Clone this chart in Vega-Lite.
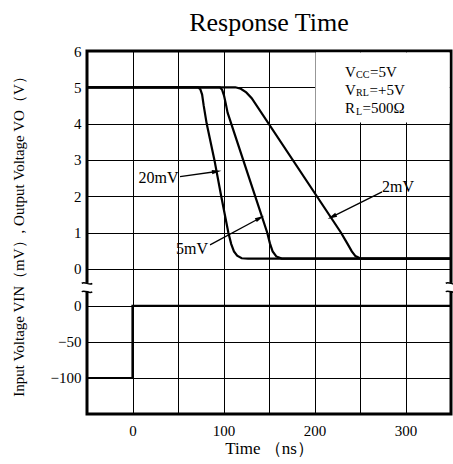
{
  "$schema": "https://vega.github.io/schema/vega-lite/v6.json",
  "width": 364,
  "height": 363,
  "autosize": {"type": "none"},
  "padding": {"left": 87, "top": 51, "right": 2, "bottom": 50},
  "title": {"text": "Response Time", "font": "Liberation Serif", "fontSize": 26, "fontWeight": "normal", "color": "black", "offset": 8},
  "config": {
    "view": {"stroke": "black", "strokeWidth": 3},
    "axis": {"labelFont": "Liberation Serif", "labelFontSize": 15, "labelColor": "black", "titleFont": "Liberation Serif", "titleColor": "black", "titleFontWeight": "normal", "gridColor": "black", "gridOpacity": 1, "gridWidth": 1, "ticks": false, "domain": false},
    "text": {"font": "Liberation Serif", "color": "black"}
  },
  "datasets": {
    "curves": [
      {"curve": "20mV", "t": -50, "v": 5}, {"curve": "20mV", "t": 72, "v": 5}, {"curve": "20mV", "t": 74.5, "v": 4.95}, {"curve": "20mV", "t": 76.5, "v": 4.8}, {"curve": "20mV", "t": 78.2, "v": 4.5}, {"curve": "20mV", "t": 81.5, "v": 4}, {"curve": "20mV", "t": 90, "v": 3}, {"curve": "20mV", "t": 97.5, "v": 2}, {"curve": "20mV", "t": 105.3, "v": 1}, {"curve": "20mV", "t": 108.5, "v": 0.68}, {"curve": "20mV", "t": 111.5, "v": 0.48}, {"curve": "20mV", "t": 115, "v": 0.36}, {"curve": "20mV", "t": 120, "v": 0.29}, {"curve": "20mV", "t": 127, "v": 0.28}, {"curve": "20mV", "t": 350, "v": 0.28},
      {"curve": "5mV", "t": -50, "v": 5}, {"curve": "5mV", "t": 96, "v": 5}, {"curve": "5mV", "t": 98.5, "v": 4.93}, {"curve": "5mV", "t": 100.5, "v": 4.78}, {"curve": "5mV", "t": 102.5, "v": 4.55}, {"curve": "5mV", "t": 104.5, "v": 4.3}, {"curve": "5mV", "t": 121.6, "v": 3}, {"curve": "5mV", "t": 134.8, "v": 2}, {"curve": "5mV", "t": 148, "v": 1}, {"curve": "5mV", "t": 151, "v": 0.7}, {"curve": "5mV", "t": 154, "v": 0.48}, {"curve": "5mV", "t": 158, "v": 0.34}, {"curve": "5mV", "t": 164, "v": 0.28}, {"curve": "5mV", "t": 350, "v": 0.28},
      {"curve": "2mV", "t": -50, "v": 5}, {"curve": "2mV", "t": 113, "v": 5}, {"curve": "2mV", "t": 119, "v": 4.96}, {"curve": "2mV", "t": 125, "v": 4.86}, {"curve": "2mV", "t": 131, "v": 4.7}, {"curve": "2mV", "t": 229, "v": 1}, {"curve": "2mV", "t": 236, "v": 0.7}, {"curve": "2mV", "t": 241, "v": 0.48}, {"curve": "2mV", "t": 245, "v": 0.35}, {"curve": "2mV", "t": 250, "v": 0.29}, {"curve": "2mV", "t": 256, "v": 0.28}, {"curve": "2mV", "t": 350, "v": 0.28}
    ],
    "input": [
      {"i": 0, "t": -50, "mv": -100}, {"i": 1, "t": 0, "mv": -100}, {"i": 2, "t": 0, "mv": 0}, {"i": 3, "t": 350, "mv": 0}
    ],
    "arrows": [
      {"label": "20mV", "lt": 28.6, "lv": 2.5, "t": 52.2, "v": 2.54, "t2": 92.5, "v2": 2.68},
      {"label": "5mV", "lt": 65.4, "lv": 0.55, "t": 85.2, "v": 0.66, "t2": 140.1, "v2": 1.4},
      {"label": "2mV", "lt": 291.8, "lv": 2.25, "t": 274.2, "v": 2.12, "t2": 219.2, "v2": 1.43}
    ],
    "boxtext": [
      {"role": "main", "s": "V", "t": 233.5, "v": 5.43}, {"role": "sub", "s": "CC", "t": 245.6, "v": 5.33}, {"role": "main", "s": "=5V", "t": 261, "v": 5.43},
      {"role": "main", "s": "V", "t": 233.5, "v": 4.93}, {"role": "sub", "s": "RL", "t": 245.6, "v": 4.83}, {"role": "main", "s": "=+5V", "t": 260.4, "v": 4.93},
      {"role": "main", "s": "R", "t": 233.5, "v": 4.42}, {"role": "sub", "s": "L", "t": 245.6, "v": 4.32}, {"role": "main", "s": "=500Ω", "t": 252.7, "v": 4.42}
    ],
    "breaks": [{"t": -50, "v": -0.5}, {"t": 350, "v": -0.5}],
    "box": [{"t": 201, "t2": 348.5, "v": 4.03, "v2": 5.96}]
  },
  "layer": [
    {
      "layer": [
        {
          "data": {"name": "box"},
          "mark": {"type": "rect", "fill": "white", "strokeWidth": 0},
          "encoding": {
            "x": {"field": "t", "type": "quantitative"},
            "x2": {"field": "t2"},
            "y": {"field": "v", "type": "quantitative"},
            "y2": {"field": "v2"}
          }
        },
        {
          "data": {"name": "curves"},
          "mark": {"type": "line", "color": "black", "strokeWidth": 2.2},
          "encoding": {
            "x": {"field": "t", "type": "quantitative", "scale": {"domain": [-50, 350], "nice": false, "zero": false},
              "axis": {"values": [-50, 0, 50, 100, 150, 200, 250, 300, 350], "grid": true, "labelExpr": "datum.value >= 0 && datum.value % 100 === 0 ? datum.label : ''", "title": "Time （ns）", "titleFontSize": 17, "labelPadding": 9, "titlePadding": 2}},
            "y": {"field": "v", "type": "quantitative", "scale": {"domain": [-4, 6], "nice": false, "zero": false},
              "axis": {"values": [0, 1, 2, 3, 4, 5, 6], "grid": true, "title": "Input Voltage VIN（mV）, Output Voltage VO（V）", "titleFontSize": 15, "labelPadding": 6, "titlePadding": 47}},
            "detail": {"field": "curve"}
          }
        },
        {
          "data": {"name": "arrows"},
          "mark": {"type": "rule", "color": "black", "strokeWidth": 1.3},
          "encoding": {
            "x": {"field": "t", "type": "quantitative"},
            "y": {"field": "v", "type": "quantitative"},
            "x2": {"field": "t2"},
            "y2": {"field": "v2"}
          }
        },
        {
          "data": {"name": "arrows"},
          "transform": [{"filter": "datum.label === '20mV'"}],
          "mark": {"type": "point", "shape": "M0,-1 L0.45,1 L-0.45,1 Z", "filled": true, "fill": "black", "opacity": 1, "strokeWidth": 0, "size": 90, "angle": 82},
          "encoding": {"x": {"field": "t2", "type": "quantitative"}, "y": {"field": "v2", "type": "quantitative"}}
        },
        {
          "data": {"name": "arrows"},
          "transform": [{"filter": "datum.label === '5mV'"}],
          "mark": {"type": "point", "shape": "M0,-1 L0.45,1 L-0.45,1 Z", "filled": true, "fill": "black", "opacity": 1, "strokeWidth": 0, "size": 90, "angle": 62},
          "encoding": {"x": {"field": "t2", "type": "quantitative"}, "y": {"field": "v2", "type": "quantitative"}}
        },
        {
          "data": {"name": "arrows"},
          "transform": [{"filter": "datum.label === '2mV'"}],
          "mark": {"type": "point", "shape": "M0,-1 L0.45,1 L-0.45,1 Z", "filled": true, "fill": "black", "opacity": 1, "strokeWidth": 0, "size": 90, "angle": 243},
          "encoding": {"x": {"field": "t2", "type": "quantitative"}, "y": {"field": "v2", "type": "quantitative"}}
        },
        {
          "data": {"name": "arrows"},
          "mark": {"type": "text", "fontSize": 16, "align": "center", "baseline": "middle"},
          "encoding": {
            "x": {"field": "lt", "type": "quantitative"},
            "y": {"field": "lv", "type": "quantitative"},
            "text": {"field": "label"}
          }
        },
        {
          "data": {"name": "boxtext"},
          "transform": [{"filter": "datum.role === 'main'"}],
          "mark": {"type": "text", "fontSize": 15, "align": "left", "baseline": "middle"},
          "encoding": {
            "x": {"field": "t", "type": "quantitative"},
            "y": {"field": "v", "type": "quantitative"},
            "text": {"field": "s"}
          }
        },
        {
          "data": {"name": "boxtext"},
          "transform": [{"filter": "datum.role === 'sub'"}],
          "mark": {"type": "text", "fontSize": 10, "align": "left", "baseline": "middle"},
          "encoding": {
            "x": {"field": "t", "type": "quantitative"},
            "y": {"field": "v", "type": "quantitative"},
            "text": {"field": "s"}
          }
        },
        {
          "data": {"name": "breaks"},
          "mark": {"type": "point", "shape": "square", "filled": true, "fill": "white", "opacity": 1, "strokeWidth": 0, "size": 64},
          "encoding": {"x": {"field": "t", "type": "quantitative"}, "y": {"field": "v", "type": "quantitative"}}
        },
        {
          "data": {"name": "breaks"},
          "mark": {"type": "point", "shape": "M-0.8,-0.55 C-0.4,-0.95 0.4,-0.15 0.8,-0.55 M-0.8,0.75 C-0.4,0.35 0.4,1.15 0.8,0.75", "filled": false, "stroke": "black", "strokeWidth": 1.5, "opacity": 1, "size": 169},
          "encoding": {"x": {"field": "t", "type": "quantitative"}, "y": {"field": "v", "type": "quantitative"}}
        }
      ]
    },
    {
      "data": {"name": "input"},
      "mark": {"type": "line", "color": "black", "strokeWidth": 2.2},
      "encoding": {
        "x": {"field": "t", "type": "quantitative"},
        "y": {"field": "mv", "type": "quantitative", "scale": {"domain": [-150, 354], "nice": false, "zero": false},
          "axis": {"orient": "left", "values": [0, -50, -100], "grid": true, "title": null, "labelPadding": 6}},
        "order": {"field": "i"}
      }
    }
  ],
  "resolve": {"scale": {"y": "independent"}, "axis": {"y": "independent"}}
}
